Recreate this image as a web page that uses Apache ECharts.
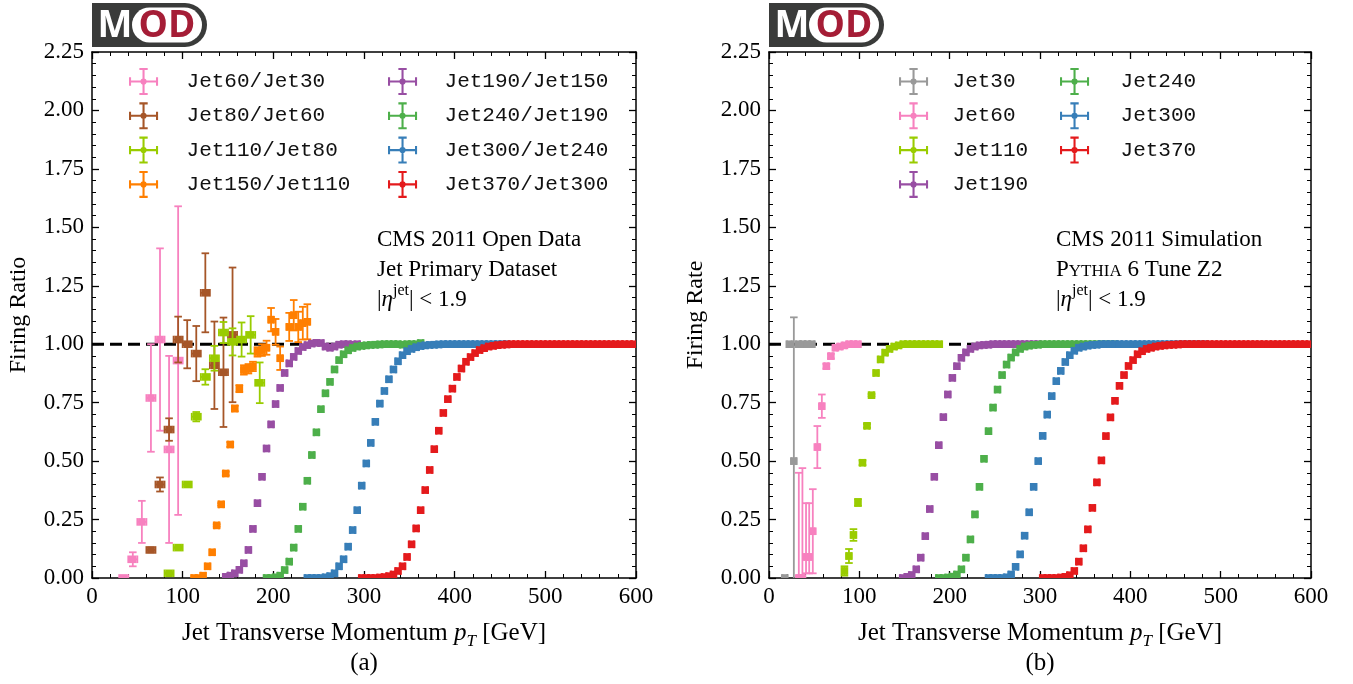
<!DOCTYPE html>
<html><head><meta charset="utf-8">
<script src="https://cdn.jsdelivr.net/npm/echarts@6/dist/echarts.min.js"></script>
<style>html,body{margin:0;padding:0;background:#fff}#c{width:1353px;height:684px}</style>
</head><body><div id="c"></div><script>
// ---------------- DATA ----------------
const X_RANGE = [0, 600];
const Y_RANGE = [0, 2.25];

// Panel (a): firing ratios (Open Data)
const a60_30_x = [35, 45, 55, 65, 75, 85, 95];
const a60_30_y = [0.0, 0.08, 0.24, 0.77, 1.02, 0.55, 0.93];
const a60_30_e = [0.01, 0.03, 0.09, 0.23, 0.39, 0.40, 0.66];
const a60_30_xe = 5;

const a80_60_x = [65, 75, 85, 95, 105, 115, 125, 135, 145, 155];
const a80_60_y = [0.12, 0.40, 0.635, 1.02, 1.0, 0.96, 1.22, 0.91, 0.88, 1.04];
const a80_60_e = [0.01, 0.03, 0.048, 0.098, 0.103, 0.118, 0.169, 0.187, 0.234, 0.288];
const a80_60_xe = 5;

const a110_80_x = [85, 95, 105, 115, 125, 135, 145, 155, 165, 175, 185];
const a110_80_y = [0.02, 0.13, 0.40, 0.69, 0.86, 0.94, 1.05, 1.01, 1.02, 1.04, 0.835];
const a110_80_e = [0.005, 0.005, 0.008, 0.02, 0.033, 0.053, 0.045, 0.058, 0.073, 0.08, 0.087];
const a110_80_xe = 5;

const a150_110_x = [112.5, 117.5, 122.5, 127.5, 132.5, 137.5, 142.5, 147.5, 152.5, 157.5, 162.5, 167.5, 172.5,
  177.5, 182.5, 187.5, 192.5, 197.5, 202.5, 207.5, 217.5, 222.5, 227.5, 232.5, 237.5];
const a150_110_y = [0.0, 0.0, 0.01, 0.05, 0.11, 0.225, 0.315, 0.447, 0.571, 0.725, 0.81, 0.89, 0.895,
  0.905, 0.967, 0.975, 0.985, 1.105, 1.053, 0.94, 1.074, 1.124, 1.074, 1.09, 1.096];
const a150_110_e = [0, 0, 0, 0, 0, 0.005, 0.005, 0.008, 0.01, 0.012, 0.015, 0.02, 0.02,
  0.02, 0.02, 0.025, 0.03, 0.05, 0.055, 0.05, 0.06, 0.065, 0.065, 0.07, 0.075];
const a150_110_xe = 2.5;

const a190_150_x = [147.5, 152.5, 157.5, 162.5, 167.5, 172.5, 177.5, 182.5, 187.5, 192.5, 197.5, 202.5, 207.5, 212.5, 217.5,
  222.5, 227.5, 232.5, 237.5, 242.5, 247.5, 252.5, 257.5, 262.5, 267.5, 272.5, 277.5, 282.5, 287.5, 292.5];
const a190_150_y = [0.005, 0.01, 0.02, 0.035, 0.063, 0.12, 0.21, 0.32, 0.433, 0.554, 0.657, 0.744, 0.813, 0.877, 0.918,
  0.946, 0.971, 0.988, 0.996, 1.003, 1.006, 1.005, 0.99, 0.985, 0.99, 0.998, 1.0, 1.0, 0.998, 1.0];
const a190_150_xe = 2.5;

const a240_190_x = [192.5, 197.5, 202.5, 207.5, 212.5, 217.5, 222.5, 227.5, 232.5, 237.5, 242.5, 247.5, 252.5, 257.5, 262.5,
  267.5, 272.5, 277.5, 282.5, 287.5, 292.5, 297.5, 302.5, 307.5, 312.5, 317.5, 322.5, 327.5, 332.5, 337.5,
  342.5, 347.5, 352.5, 357.5, 362.5];
const a240_190_y = [0.0, 0.0, 0.003, 0.01, 0.034, 0.07, 0.13, 0.21, 0.305, 0.416, 0.526, 0.623, 0.722, 0.79, 0.839,
  0.892, 0.932, 0.957, 0.974, 0.984, 0.99, 0.993, 0.995, 0.997, 0.998, 0.999, 1.0, 1.0, 1.0, 1.0,
  0.998, 1.0, 1.0, 1.0, 1.005];
const a240_190_xe = 2.5;

const a300_240_x = [237.5, 242.5, 247.5, 252.5, 257.5, 262.5, 267.5, 272.5, 277.5, 282.5, 287.5, 292.5, 297.5, 302.5, 307.5,
  312.5, 317.5, 322.5, 327.5, 332.5, 337.5, 342.5, 347.5, 352.5, 357.5, 362.5, 367.5, 372.5, 377.5, 382.5,
  387.5, 392.5, 397.5, 402.5, 407.5, 412.5, 417.5, 422.5, 427.5, 432.5, 437.5, 442.5, 447.5, 452.5, 457.5];
const a300_240_y = [0.0, 0.0, 0.0, 0.0, 0.003, 0.008, 0.02, 0.05, 0.08, 0.134, 0.205, 0.29, 0.395, 0.49, 0.578,
  0.668, 0.746, 0.80, 0.85, 0.892, 0.927, 0.953, 0.97, 0.98, 0.987, 0.992, 0.995, 0.997, 0.998, 0.999,
  1.0, 1.0, 1.0, 1.0, 1.0, 1.0, 1.0, 1.0, 1.0, 1.0, 1.0, 1.0, 1.0, 1.0, 1.0];
const a300_240_xe = 2.5;

const a370_300_x = [297.5, 302.5, 307.5, 312.5, 317.5, 322.5, 327.5, 332.5, 337.5, 342.5, 347.5, 352.5, 357.5, 362.5, 367.5,
  372.5, 377.5, 382.5, 387.5, 392.5, 397.5, 402.5, 407.5, 412.5, 417.5, 422.5, 427.5, 432.5, 437.5, 442.5,
  447.5, 452.5, 457.5, 462.5, 467.5, 472.5, 477.5, 482.5, 487.5, 492.5, 497.5, 502.5, 507.5, 512.5, 517.5,
  522.5, 527.5, 532.5, 537.5, 542.5, 547.5, 552.5, 557.5, 562.5, 567.5, 572.5, 577.5, 582.5, 587.5, 592.5, 597.5];
const a370_300_y = [0.0, 0.0, 0.0, 0.0, 0.002, 0.004, 0.008, 0.015, 0.03, 0.05, 0.09, 0.144, 0.212, 0.29, 0.376,
  0.462, 0.551, 0.63, 0.706, 0.765, 0.81, 0.86, 0.896, 0.925, 0.945, 0.962, 0.975, 0.983, 0.99, 0.993,
  0.996, 0.998, 0.999, 1.0, 1.0, 1.0, 1.0, 1.0, 1.0, 1.0, 1.0, 1.0, 1.0, 1.0, 1.0,
  1.0, 1.0, 1.0, 1.0, 1.0, 1.0, 1.0, 1.0, 1.0, 1.0, 1.0, 1.0, 1.0, 1.0, 1.0, 1.0];
const a370_300_xe = 2.5;

// Panel (b): firing rates (Simulation)
const b30_x = [17.5, 22.5, 27.5, 32.5, 37.5, 42.5, 47.5];
const b30_y = [0.0, 1.0, 0.5, 1.0, 1.0, 1.0, 1.0];
const b30_lo = [0, 0, 0.55, 0, 0, 0, 0];
const b30_hi = [0, 0, 0.615, 0, 0, 0, 0];
const b30_xe = 2.5;

const b60_x = [33, 37, 41, 44.5, 48.5, 53.5, 58.5, 63.5, 68.5, 73.5, 78.5, 83.5, 88.5, 93.5, 98.5];
const b60_y = [0.0, 0.0, 0.09, 0.09, 0.20, 0.56, 0.735, 0.906, 0.949, 0.985, 0.99, 0.995, 1.0, 1.0, 1.0];
const b60_lo = [0, 0, 0.07, 0.07, 0.18, 0.09, 0.05, 0.01, 0.01, 0, 0, 0, 0, 0, 0];
const b60_hi = [0.45, 0.47, 0.23, 0.23, 0.18, 0.09, 0.05, 0.01, 0.01, 0, 0, 0, 0, 0, 0];
const b60_xe = 2;

const b110_x = [83.5, 88.5, 93.5, 98.5, 103.5, 108.5, 113.5, 118.5, 123.5, 128.5, 133.5, 138.5, 143.5,
  148.5, 153.5, 158.5, 163.5, 168.5, 173.5, 178.5, 183.5, 188.5];
const b110_y = [0.03, 0.094, 0.184, 0.323, 0.493, 0.651, 0.782, 0.877, 0.935, 0.964, 0.98, 0.99, 0.995,
  1.0, 1.0, 1.0, 1.0, 1.0, 1.0, 1.0, 1.0, 1.0];
const b110_e = [0.02, 0.03, 0.025, 0.015, 0.01, 0.008, 0.005, 0, 0, 0, 0, 0, 0, 0, 0, 0, 0, 0, 0, 0, 0, 0];
const b110_xe = 2.5;

const b190_x = [148, 153, 158, 163, 168, 173, 178, 183, 188, 193, 198, 203, 208, 213, 218, 223, 228, 233, 238, 243,
  248, 253, 258, 263, 268, 273, 278, 283, 288, 293, 298];
const b190_y = [0.0, 0.005, 0.013, 0.037, 0.087, 0.179, 0.295, 0.433, 0.568, 0.688, 0.785, 0.856, 0.906, 0.942, 0.965,
  0.98, 0.99, 0.995, 0.997, 0.998, 1.0, 1.0, 1.0, 1.0, 1.0, 1.0, 1.0, 1.0, 1.0, 1.0, 1.0];
const b190_xe = 2.5;

const b240_x = [188, 193, 198, 203, 208, 213, 218, 223, 228, 233, 238, 243, 248, 253, 258, 263, 268, 273, 278, 283,
  288, 293, 298, 303, 308, 313, 318, 323, 328, 333, 338, 343, 348, 353, 358, 363, 368, 373, 378, 383];
const b240_y = [0.0, 0.0, 0.002, 0.006, 0.015, 0.037, 0.087, 0.165, 0.272, 0.39, 0.51, 0.628, 0.729, 0.806, 0.868,
  0.913, 0.943, 0.965, 0.98, 0.99, 0.994, 0.997, 0.998, 1.0, 1.0, 1.0, 1.0, 1.0, 1.0, 1.0, 1.0, 1.0, 1.0, 1.0,
  1.0, 1.0, 1.0, 1.0, 1.0, 1.0];
const b240_xe = 2.5;

const b300_x = [243, 248, 253, 258, 263, 268, 273, 278, 283, 288, 293, 298, 303, 308, 313, 318, 323, 328, 333, 338,
  343, 348, 353, 358, 363, 368, 373, 378, 383, 388, 393, 398, 403, 408, 413, 418, 423, 428, 433, 438,
  443, 448, 453, 458, 463, 468, 473, 478, 483];
const b300_y = [0.0, 0.0, 0.0, 0.0, 0.003, 0.015, 0.048, 0.101, 0.181, 0.281, 0.39, 0.5, 0.608, 0.699, 0.778,
  0.842, 0.886, 0.924, 0.953, 0.972, 0.985, 0.99, 0.994, 0.997, 0.998, 1.0, 1.0, 1.0, 1.0, 1.0,
  1.0, 1.0, 1.0, 1.0, 1.0, 1.0, 1.0, 1.0, 1.0, 1.0, 1.0, 1.0, 1.0, 1.0, 1.0, 1.0, 1.0, 1.0, 1.0];
const b300_xe = 2.5;

const b370_x = [303, 308, 313, 318, 323, 328, 333, 338, 343, 348, 353, 358, 363, 368, 373, 378, 383, 388, 393, 398,
  403, 408, 413, 418, 423, 428, 433, 438, 443, 448, 453, 458, 463, 468, 473, 478, 483, 488, 493, 498,
  503, 508, 513, 518, 523, 528, 533, 538, 543, 548, 553, 558, 563, 568, 573, 578, 583, 588, 593, 598];
const b370_y = [0.0, 0.0, 0.0, 0.0, 0.002, 0.005, 0.012, 0.03, 0.07, 0.127, 0.208, 0.3, 0.409, 0.503, 0.607,
  0.687, 0.758, 0.822, 0.868, 0.907, 0.932, 0.957, 0.97, 0.98, 0.985, 0.99, 0.993, 0.995, 0.997, 0.998,
  0.999, 1.0, 1.0, 1.0, 1.0, 1.0, 1.0, 1.0, 1.0, 1.0, 1.0, 1.0, 1.0, 1.0, 1.0, 1.0, 1.0, 1.0, 1.0, 1.0,
  1.0, 1.0, 1.0, 1.0, 1.0, 1.0, 1.0, 1.0, 1.0, 1.0];
const b370_xe = 2.5;

const legendA1 = ['Jet60/Jet30', 'Jet80/Jet60', 'Jet110/Jet80', 'Jet150/Jet110'];
const legendA2 = ['Jet190/Jet150', 'Jet240/Jet190', 'Jet300/Jet240', 'Jet370/Jet300'];
const legendB1 = ['Jet30', 'Jet60', 'Jet110', 'Jet190'];
const legendB2 = ['Jet240', 'Jet300', 'Jet370'];

// ---------------- STYLE ----------------
const C = {
  pink: '#f781bf', brown: '#a65628', lime: '#99cc00', orange: '#ff7f00',
  purple: '#984ea3', green: '#4daf4a', blue: '#377eb8', red: '#e41a1c', gray: '#999999'
};
const SERIF = '"Liberation Serif", "Times New Roman", serif';
const MONO = '"Liberation Mono", "DejaVu Sans Mono", monospace';

function pts(xs, ys, xe, lo, hi) {
  return xs.map((x, i) => [x, ys[i], xe, lo ? lo[i] : 0, hi ? hi[i] : (lo ? lo[i] : 0)]);
}

function renderErr(params, api) {
  const x = api.value(0), y = api.value(1), xe = api.value(2), lo = api.value(3), hi = api.value(4);
  const c = api.coord([x, y]);
  const color = api.visual('color');
  const st = { stroke: color, lineWidth: 1.8 };
  const cap = 3.8, m = 3.8;
  const kids = [];
  if (xe > 0) {
    const xl = api.coord([x - xe, y])[0], xr = api.coord([x + xe, y])[0];
    kids.push({ type: 'line', shape: { x1: xl, y1: c[1], x2: xr, y2: c[1] }, style: st });
    kids.push({ type: 'line', shape: { x1: xl, y1: c[1] - cap, x2: xl, y2: c[1] + cap }, style: st });
    kids.push({ type: 'line', shape: { x1: xr, y1: c[1] - cap, x2: xr, y2: c[1] + cap }, style: st });
  }
  if (lo > 0 || hi > 0) {
    const yt = api.coord([x, y + hi])[1], yb = api.coord([x, y - lo])[1];
    kids.push({ type: 'line', shape: { x1: c[0], y1: yt, x2: c[0], y2: yb }, style: st });
    kids.push({ type: 'line', shape: { x1: c[0] - cap, y1: yt, x2: c[0] + cap, y2: yt }, style: st });
    kids.push({ type: 'line', shape: { x1: c[0] - cap, y1: yb, x2: c[0] + cap, y2: yb }, style: st });
  }
  kids.push({ type: 'rect', shape: { x: c[0] - m, y: c[1] - m, width: 2 * m, height: 2 * m }, style: { fill: color } });
  return { type: 'group', children: kids };
}

function errSeries(name, color, data, ax) {
  return {
    type: 'custom', name, xAxisIndex: ax, yAxisIndex: ax, renderItem: renderErr, data,
    itemStyle: { color }, clip: true, encode: { x: 0, y: 1 }, z: 3, animation: false
  };
}
function dashSeries(ax) {
  return {
    type: 'line', xAxisIndex: ax, yAxisIndex: ax, data: [[X_RANGE[0], 1], [X_RANGE[1], 1]], symbol: 'none',
    silent: true, z: 1, lineStyle: { color: '#000', width: 3, type: [12, 6] }, animation: false
  };
}

const ICON = 'path://M0,12H28V14H0Z M0,9H2V17H0Z M26,9H28V17H26Z M13,0H15V26H13Z M10,0H18V2H10Z M10,24H18V26H10Z M11,13a3,3 0 1,1 6,0a3,3 0 1,1 -6,0Z';

function legendCfg(names, left, top, pad) {
  return {
    show: true, orient: 'vertical', left, top, padding: 0, itemWidth: 30, itemHeight: 27, itemGap: 7.3,
    selectedMode: false, data: names.map(n => ({ name: n, icon: ICON })),
    textStyle: { fontFamily: MONO, fontSize: 21, color: '#111', padding: [0, 0, 0, pad] }
  };
}

const tickLabel = { fontFamily: SERIF, fontSize: 23, color: '#000' };
function xAx(grid, pos, labels) {
  return {
    type: 'value', gridIndex: grid, position: pos, min: X_RANGE[0], max: X_RANGE[1], interval: 100,
    axisLine: { show: true, onZero: false, lineStyle: { color: '#000', width: 1.5 } },
    axisTick: { show: true, inside: true, length: 7, lineStyle: { color: '#000', width: 1.3 } },
    minorTick: { show: true, splitNumber: 5, length: 4, lineStyle: { color: '#000', width: 1 } },
    splitLine: { show: false }, minorSplitLine: { show: false },
    axisLabel: Object.assign({ show: labels, margin: 7, showMinLabel: true, showMaxLabel: true }, tickLabel),
    name: labels ? '{t|Jet Transverse Momentum }{i|p}{s|T}{t| [GeV]}' : '',
    nameLocation: 'middle', nameGap: 38,
    nameTextStyle: {
      rich: {
        t: { fontFamily: SERIF, fontSize: 25, color: '#000', lineHeight: 30, verticalAlign: 'bottom' },
        i: { fontFamily: SERIF, fontSize: 25, fontStyle: 'italic', color: '#000', lineHeight: 30, verticalAlign: 'bottom' },
        s: { fontFamily: SERIF, fontSize: 17, fontStyle: 'italic', color: '#000', lineHeight: 17, verticalAlign: 'bottom', padding: [0, 0, -4, 0] }
      }
    }
  };
}
function yAx(grid, pos, labels, name) {
  return {
    type: 'value', gridIndex: grid, position: pos, min: Y_RANGE[0], max: Y_RANGE[1], interval: 0.25,
    axisLine: { show: true, onZero: false, lineStyle: { color: '#000', width: 1.5 } },
    axisTick: { show: true, inside: true, length: 7, lineStyle: { color: '#000', width: 1.3 } },
    minorTick: { show: true, splitNumber: 5, length: 4, lineStyle: { color: '#000', width: 1 } },
    splitLine: { show: false }, minorSplitLine: { show: false },
    axisLabel: Object.assign({ show: labels, margin: 8, showMinLabel: true, showMaxLabel: true,
      formatter: v => v.toFixed(2) }, tickLabel),
    name: labels ? name : '', nameLocation: 'middle', nameGap: 61,
    nameTextStyle: { fontFamily: SERIF, fontSize: 24, color: '#000' }
  };
}

function logo(x) {
  return {
    type: 'group', x, y: 3, children: [
      { type: 'rect', shape: { x: 0, y: 0, width: 115, height: 44, r: [0, 22, 22, 0] }, style: { fill: '#3a3b3a' } },
      { type: 'text', x: 23, y: 23, style: { text: 'M', fill: '#fff', font: 'bold 37px "Open Sans", Lato, sans-serif', align: 'center', verticalAlign: 'middle' } },
      { type: 'rect', shape: { x: 40, y: 4.5, width: 70, height: 35, r: 17.5 }, style: { fill: '#fff' } },
      { type: 'text', x: 75, y: 23, style: { text: 'OD', fill: '#a51d36', font: 'bold 37px "Open Sans", Lato, sans-serif', align: 'center', verticalAlign: 'middle' } }
    ]
  };
}
function txt(x, y, text, size, rich, align) {
  return { type: 'text', x, y, style: { text, fill: '#000', font: size + 'px ' + SERIF, align: align || 'left', verticalAlign: 'middle', rich } };
}
const etaRich = {
  t: { fontFamily: SERIF, fontSize: 23, lineHeight: 28, verticalAlign: 'bottom', fill: '#000' },
  i: { fontFamily: SERIF, fontSize: 23, fontStyle: 'italic', lineHeight: 28, verticalAlign: 'bottom', fill: '#000' },
  u: { fontFamily: SERIF, fontSize: 16, lineHeight: 16, verticalAlign: 'top', fill: '#000' }
};
const scRich = {
  a: { fontFamily: SERIF, fontSize: 23, lineHeight: 23, verticalAlign: 'bottom', fill: '#000' },
  b: { fontFamily: SERIF, fontSize: 17, lineHeight: 17, verticalAlign: 'bottom', fill: '#000', padding: [0, 0, 1, 0] }
};

const option = {
  animation: false,
  backgroundColor: '#fff',
  grid: [
    { left: 92, right: 717, top: 52, bottom: 106, containLabel: false, outerBoundsMode: 'none' },
    { left: 769, right: 42, top: 52, bottom: 106, containLabel: false, outerBoundsMode: 'none' }
  ],
  xAxis: [xAx(0, 'bottom', true), xAx(0, 'top', false), xAx(1, 'bottom', true), xAx(1, 'top', false)],
  yAxis: [yAx(0, 'left', true, 'Firing Ratio'), yAx(0, 'right', false), yAx(1, 'left', true, 'Firing Rate'), yAx(1, 'right', false)],
  legend: [legendCfg(legendA1, 129, 68, 23), legendCfg(legendA2, 388, 68, 22), legendCfg(legendB1, 899, 68, 19), legendCfg(legendB2, 1060, 68, 26)],
  series: [
    dashSeries(0),
    errSeries('Jet60/Jet30', C.pink, pts(a60_30_x, a60_30_y, a60_30_xe, a60_30_e), 0),
    errSeries('Jet80/Jet60', C.brown, pts(a80_60_x, a80_60_y, a80_60_xe, a80_60_e), 0),
    errSeries('Jet110/Jet80', C.lime, pts(a110_80_x, a110_80_y, a110_80_xe, a110_80_e), 0),
    errSeries('Jet150/Jet110', C.orange, pts(a150_110_x, a150_110_y, a150_110_xe, a150_110_e), 0),
    errSeries('Jet190/Jet150', C.purple, pts(a190_150_x, a190_150_y, a190_150_xe), 0),
    errSeries('Jet240/Jet190', C.green, pts(a240_190_x, a240_190_y, a240_190_xe), 0),
    errSeries('Jet300/Jet240', C.blue, pts(a300_240_x, a300_240_y, a300_240_xe), 0),
    errSeries('Jet370/Jet300', C.red, pts(a370_300_x, a370_300_y, a370_300_xe), 0),
    dashSeries(2),
    errSeries('Jet30', C.gray, pts(b30_x, b30_y, b30_xe, b30_lo, b30_hi), 2),
    errSeries('Jet60', C.pink, pts(b60_x, b60_y, b60_xe, b60_lo, b60_hi), 2),
    errSeries('Jet110', C.lime, pts(b110_x, b110_y, b110_xe, b110_e), 2),
    errSeries('Jet190', C.purple, pts(b190_x, b190_y, b190_xe), 2),
    errSeries('Jet240', C.green, pts(b240_x, b240_y, b240_xe), 2),
    errSeries('Jet300', C.blue, pts(b300_x, b300_y, b300_xe), 2),
    errSeries('Jet370', C.red, pts(b370_x, b370_y, b370_xe), 2)
  ],
  graphic: [
    logo(92), logo(769),
    txt(377, 240, 'CMS 2011 Open Data', 23),
    txt(377, 270, 'Jet Primary Dataset', 23),
    txt(377, 297, '{t||}{i|η}{u|jet}{t|| < 1.9}', 23, etaRich),
    txt(1056, 240, 'CMS 2011 Simulation', 23),
    txt(1056, 270, '{a|P}{b|YTHIA}{a| 6 Tune Z2}', 23, scRich),
    txt(1056, 297, '{t||}{i|η}{u|jet}{t|| < 1.9}', 23, etaRich),
    txt(364, 663, '(a)', 25, null, 'center'),
    txt(1040, 663, '(b)', 25, null, 'center')
  ]
};
const chart = echarts.init(document.getElementById('c'), null, { renderer: 'canvas' });
chart.setOption(option);
</script></body></html>
